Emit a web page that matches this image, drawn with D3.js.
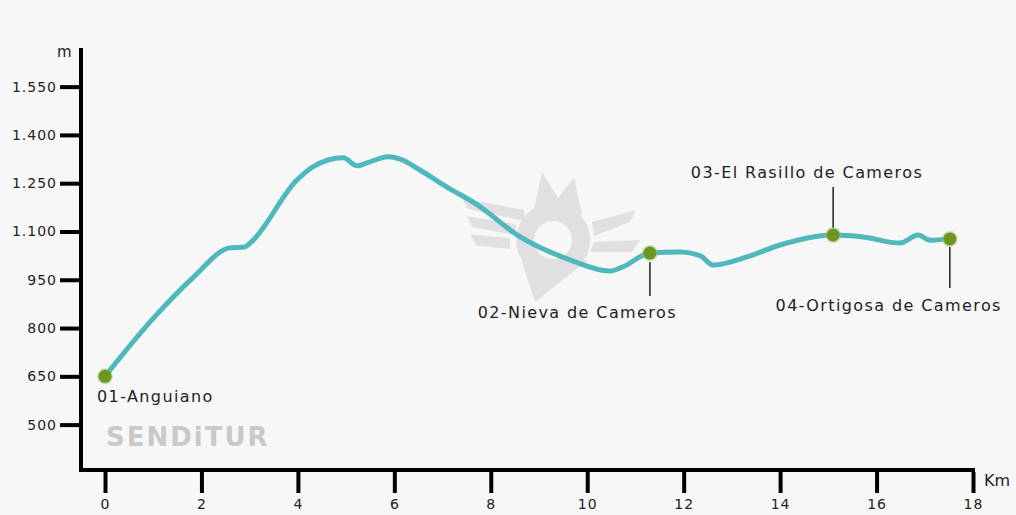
<!DOCTYPE html>
<html>
<head>
<meta charset="utf-8">
<script src="https://cdn.jsdelivr.net/npm/d3@7"></script>
<style>
  html, body { margin: 0; padding: 0; background: #f7f7f7; }
  svg text { font-family: "DejaVu Sans", sans-serif; fill: #222; }
</style>
</head>
<body>
<div id="chart"></div>
<script>

// Elevation profile (km, metres)
const km   = [0, 1, 1.82, 2.59, 2.9, 3.01, 3.98, 4.31, 4.94, 5.23, 5.43, 5.87, 6.12, 6.53, 7.09, 7.7, 8.61, 9.64, 10.47, 10.74, 11.3, 11.93, 12.34, 12.61, 13.31, 14.0, 14.68, 15.1, 15.72, 16.49, 16.86, 17.11, 17.52];
const elev = [650, 830, 956, 1049, 1052, 1064, 1260, 1301, 1329, 1304, 1313, 1332, 1325, 1291, 1238, 1185, 1083, 1012, 977, 990, 1033, 1036, 1025, 996, 1021, 1058, 1083, 1089, 1083, 1064, 1089, 1073, 1077];

const stops     = ["01-Anguiano", "02-Nieva de Cameros", "03-El Rasillo de Cameros", "04-Ortigosa de Cameros"];
const stopKm    = [0, 11.3, 15.1, 17.52];
const stopElev  = [650, 1033, 1089, 1077];

const yTicks = [500, 650, 800, 950, 1100, 1250, 1400, 1550];
const xTicks = [0, 2, 4, 6, 8, 10, 12, 14, 16, 18];

const W = 1016, H = 515;

const svg = d3.select('#chart').append('svg')
  .attr('width', W)
  .attr('height', H);

svg.append('rect').attr('width', W).attr('height', H).attr('fill', '#f7f7f7');

const x = d3.scaleLinear().domain([0, 18]).range([105, 973]);
const y = d3.scaleLinear().domain([359, 1670]).range([470, 48]);

const es = d3.formatLocale({ decimal: ",", thousands: ".", grouping: [3], currency: ["", "€"] });
const fmt = es.format(",d");

// watermark emblem
const wmc = '#e0e0e0';
const wm = svg.append('g').attr('fill', wmc).attr('stroke', 'none');
wm.append('circle')
  .attr('cx', 553).attr('cy', 240).attr('r', 28)
  .attr('fill', 'none').attr('stroke', wmc).attr('stroke-width', 18);
wm.append('path').attr('d', 'M522,262 L588,260 L535,302 Z');
wm.append('path').attr('d', 'M533,214 L542,172 L558,198 L574,178 L582,214 Z');
[[0, 0], [8, 14], [14, 28]].forEach((d) => {
  wm.append('path')
    .attr('d', `M${524 - d[0]},${210 + d[1]} L${462 + d[0] * 0.6},${198 + d[1] * 1.3} L${468 + d[0] * 0.6},${209 + d[1] * 1.3} L${524 - d[0]},${221 + d[1]} Z`);
});
wm.append('path').attr('d', 'M592,222 L636,210 L630,222 L594,236 Z');
wm.append('path').attr('d', 'M594,242 L640,240 L632,252 L590,252 Z');

svg.append('text')
  .attr('x', 106).attr('y', 446)
  .attr('font-family', '"DejaVu Serif", serif')
  .attr('font-weight', 'bold')
  .attr('font-size', 26)
  .attr('letter-spacing', 2)
  .style('fill', '#c9c9c9')
  .text('SENDiTUR');

// axes
const yAxis = svg.append('g')
  .attr('transform', 'translate(81,0)')
  .call(d3.axisLeft(y).tickValues(yTicks).tickFormat(fmt).tickSize(21).tickPadding(3));
const xAxis = svg.append('g')
  .attr('transform', 'translate(0,472)')
  .call(d3.axisBottom(x).tickValues(xTicks).tickSize(21).tickPadding(6));

[yAxis, xAxis].forEach((a) => {
  a.select('.domain').remove();
  a.selectAll('.tick line').attr('stroke', '#000').attr('stroke-width', 4);
  a.selectAll('.tick text').attr('font-size', 14).attr('letter-spacing', 1).style('fill', '#222');
});

svg.append('line')
  .attr('x1', 81).attr('x2', 81).attr('y1', y(1670)).attr('y2', y(359) + 2)
  .attr('stroke', '#000').attr('stroke-width', 4);
svg.append('line')
  .attr('x1', 79).attr('x2', x(18) + 2).attr('y1', y(359)).attr('y2', y(359))
  .attr('stroke', '#000').attr('stroke-width', 4);

svg.append('text').attr('x', 57).attr('y', 57).attr('font-size', 15).text('m');
svg.append('text').attr('x', 984).attr('y', 486).attr('font-size', 16).text('Km');

// profile line
const line = d3.line()
  .x((d, i) => x(km[i]))
  .y((d, i) => y(elev[i]))
  .curve(d3.curveMonotoneX);

svg.append('path')
  .datum(km)
  .attr('d', line)
  .attr('fill', 'none')
  .attr('stroke', '#4fb8bc')
  .attr('stroke-width', 5)
  .attr('stroke-linejoin', 'round')
  .attr('stroke-linecap', 'round');

// stop labels: [leader y1, leader y2, text dx, text baseline y]
const labelLayout = [
  null,
  [262, 296, 27, 318],
  [187, 228, 90, 178],
  [247, 288, 52, 311]
];

stops.forEach((name, i) => {
  const cx = x(stopKm[i]), cy = y(stopElev[i]);
  const lay = labelLayout[i];
  const t = svg.append('text')
    .attr('font-size', 16)
    .attr('letter-spacing', 1.4)
    .text(name);
  if (lay) {
    svg.append('line')
      .attr('x1', cx).attr('x2', cx).attr('y1', lay[0]).attr('y2', lay[1])
      .attr('stroke', '#222').attr('stroke-width', 1.5);
    t.attr('x', cx + lay[2]).attr('y', lay[3]).attr('text-anchor', 'end');
  } else {
    t.attr('x', cx - 8).attr('y', cy + 26);
  }
  svg.append('circle')
    .attr('cx', cx).attr('cy', cy).attr('r', 8)
    .attr('fill', '#a7c07a').attr('opacity', 0.5);
  svg.append('circle')
    .attr('cx', cx).attr('cy', cy).attr('r', 6.5)
    .attr('fill', '#6b961f');
});
</script>
</body>
</html>
